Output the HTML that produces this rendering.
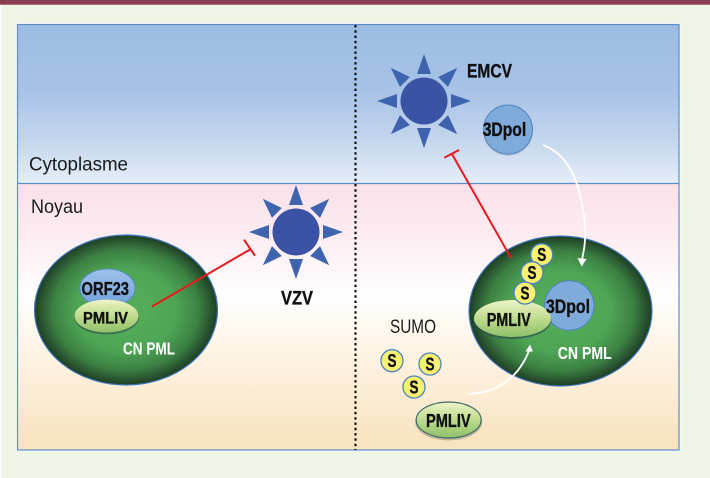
<!DOCTYPE html>
<html>
<head>
<meta charset="utf-8">
<style>
html,body{margin:0;padding:0;background:#eef5e7;}
svg{display:block;}
text{font-family:"Liberation Sans",sans-serif;}
.b{font-weight:bold;fill:#111;stroke:#111;stroke-width:.35px;}
.w{font-weight:bold;fill:#fff;}
.l{fill:#1a1a1a;font-size:19px;}
</style>
</head>
<body>
<svg width="710" height="478" viewBox="0 0 710 478" xmlns="http://www.w3.org/2000/svg">
<defs>
<linearGradient id="top" x1="0" y1="0" x2="0" y2="1">
<stop offset="0" stop-color="#9dbce3"/><stop offset=".4" stop-color="#a6c2e6"/><stop offset=".75" stop-color="#c6d7ee"/><stop offset="1" stop-color="#e6eef8"/>
</linearGradient>
<linearGradient id="bot" x1="0" y1="0" x2="0" y2="1">
<stop offset="0" stop-color="#fae0e9"/><stop offset=".18" stop-color="#fcebf1"/><stop offset=".42" stop-color="#ffffff"/><stop offset=".58" stop-color="#fef6ea"/><stop offset="1" stop-color="#f8e2bd"/>
</linearGradient>
<radialGradient id="nuc" cx=".5" cy=".5" r=".5">
<stop offset="0" stop-color="#55b05a"/><stop offset=".55" stop-color="#4ea554"/><stop offset=".8" stop-color="#3c8043"/><stop offset="1" stop-color="#1e3d25"/>
</radialGradient>
<linearGradient id="pml" x1="0" y1="0" x2="0" y2="1">
<stop offset="0" stop-color="#eef4c8"/><stop offset=".5" stop-color="#bfdb8e"/><stop offset="1" stop-color="#8fc069"/>
</linearGradient>
<linearGradient id="orf" x1="0" y1="0" x2="0" y2="1">
<stop offset="0" stop-color="#9fc3ea"/><stop offset="1" stop-color="#6f9fd8"/>
</linearGradient>
<g id="ray"><polygon points="-7,-27 7,-27 0,-47" fill="#3e64b0"/></g>
<g id="sun">
<circle r="23.500" fill="#3a53a4"/>
<use href="#ray"/><use href="#ray" transform="rotate(45)"/><use href="#ray" transform="rotate(90)"/><use href="#ray" transform="rotate(135)"/><use href="#ray" transform="rotate(180)"/><use href="#ray" transform="rotate(225)"/><use href="#ray" transform="rotate(270)"/><use href="#ray" transform="rotate(315)"/>
</g>
<g id="s">
<circle r="11" fill="#f8f06f" stroke="#4a82c4" stroke-width="1.300"/>
<text x="-4.500" y="6.500" class="b" font-size="18" textLength="9" lengthAdjust="spacingAndGlyphs">S</text>
</g>
</defs>

<rect width="710" height="478" fill="#eef5e7"/>
<rect x="0" y="4" width="1.500" height="474" fill="#f8fbf5"/>
<rect width="710" height="4.700" fill="#8a3c50"/>

<rect x="17.500" y="24.500" width="661.500" height="159" fill="url(#top)"/>
<rect x="17.500" y="183.500" width="661.500" height="266.500" fill="url(#bot)"/>
<rect x="16.500" y="23.500" width="663.500" height="427.500" fill="none" stroke="#fbfdf9" stroke-width=".8"/>
<rect x="17.500" y="24.500" width="661.500" height="425.500" fill="none" stroke="#5b8ccb" stroke-width="1.200"/>
<line x1="17.500" y1="183.500" x2="679" y2="183.500" stroke="#5b8ccb" stroke-width="1.200"/>
<line x1="355.500" y1="25" x2="355.500" y2="450" stroke="#111" stroke-width="2.200" stroke-dasharray="2.400 2.900"/>

<text x="29" y="170.500" class="l" textLength="99" lengthAdjust="spacingAndGlyphs">Cytoplasme</text>
<text x="31" y="213" class="l" textLength="52" lengthAdjust="spacingAndGlyphs">Noyau</text>
<text x="390" y="333" class="l" textLength="46" lengthAdjust="spacingAndGlyphs">SUMO</text>

<!-- Left nucleus -->
<ellipse cx="126" cy="310" rx="91.500" ry="75" fill="url(#nuc)" stroke="#3f78bd" stroke-width="1.200"/>
<ellipse cx="107.500" cy="288" rx="27.500" ry="19" fill="url(#orf)" stroke="#5b8ccb" stroke-width="1"/>
<text x="81.500" y="295" class="b" font-size="18" textLength="47.500" lengthAdjust="spacingAndGlyphs">ORF23</text>
<ellipse cx="106.500" cy="317" rx="32.500" ry="17.500" fill="#2d4a50" opacity=".6"/>
<ellipse cx="106.500" cy="316" rx="32" ry="16.500" fill="url(#pml)"/>
<text x="83" y="323.500" class="b" font-size="17" textLength="45" lengthAdjust="spacingAndGlyphs">PMLIV</text>
<text x="123" y="354.500" class="w" font-size="17.500" textLength="52" lengthAdjust="spacingAndGlyphs">CN PML</text>
<line x1="152" y1="306.500" x2="250" y2="249.500" stroke="#e8191c" stroke-width="2"/>
<line x1="244" y1="239.700" x2="255" y2="255.700" stroke="#e8191c" stroke-width="2"/>

<use href="#sun" x="296" y="232"/>
<text x="281" y="304.700" class="b" font-size="19.500" textLength="32" lengthAdjust="spacingAndGlyphs">VZV</text>

<!-- EMCV -->
<use href="#sun" x="424" y="101"/>
<text x="467" y="77.700" class="b" font-size="19.500" textLength="45" lengthAdjust="spacingAndGlyphs">EMCV</text>
<circle cx="508" cy="131" r="25" fill="#b9c4d2"/>
<circle cx="508" cy="129.500" r="24.500" fill="#7fabdb" stroke="#4f82c2" stroke-width="1"/>
<text x="482.700" y="136" class="b" font-size="19" textLength="43.500" lengthAdjust="spacingAndGlyphs">3Dpol</text>

<!-- Right nucleus -->
<ellipse cx="560.500" cy="311" rx="91.500" ry="75" fill="url(#nuc)" stroke="#3f78bd" stroke-width="1.200"/>

<!-- red inhibition -->
<line x1="511" y1="258" x2="452" y2="154" stroke="#e8191c" stroke-width="2"/>
<line x1="444.300" y1="157.700" x2="459" y2="150" stroke="#e8191c" stroke-width="2"/>

<!-- white arrows -->
<path d="M543 145 C565 153 580 175 585 225 C586 240 584 250 582 260" fill="none" stroke="#fff" stroke-width="1.800"/>
<polygon points="577.500,258 586.500,259 581.700,266.500" fill="#fff"/>
<path d="M468 394 C490 393 515 385 529 351" fill="none" stroke="#fff" stroke-width="1.800"/>
<polygon points="525.500,351.500 533,351.500 530,344.500" fill="#fff"/>

<circle cx="569.300" cy="305.500" r="24.700" fill="#7fabdb" stroke="#4f82c2" stroke-width="1"/>

<ellipse cx="512.500" cy="320" rx="39" ry="19" fill="#2d4a50" opacity=".65"/>
<ellipse cx="512.500" cy="318.500" rx="38.500" ry="18.500" fill="url(#pml)"/>
<text x="486.700" y="326" class="b" font-size="18" textLength="44" lengthAdjust="spacingAndGlyphs">PMLIV</text>
<text x="546" y="313" class="b" font-size="19" textLength="44" lengthAdjust="spacingAndGlyphs">3Dpol</text>
<text x="557.700" y="359" class="w" font-size="17.500" textLength="54" lengthAdjust="spacingAndGlyphs">CN PML</text>

<use href="#s" x="541.700" y="254.700"/>
<use href="#s" x="532" y="272.700"/>
<use href="#s" x="525" y="293"/>

<!-- free SUMO -->
<use href="#s" x="392" y="360.700"/>
<use href="#s" x="430" y="364"/>
<use href="#s" x="414" y="387"/>

<ellipse cx="448.700" cy="422" rx="33.500" ry="18.500" fill="#8d8a70" opacity=".5"/>
<ellipse cx="448.700" cy="420" rx="32.500" ry="18" fill="url(#pml)" stroke="#3d6a6a" stroke-width="1.200"/>
<text x="426" y="427" class="b" font-size="18" textLength="44.700" lengthAdjust="spacingAndGlyphs">PMLIV</text>
</svg>
</body>
</html>
